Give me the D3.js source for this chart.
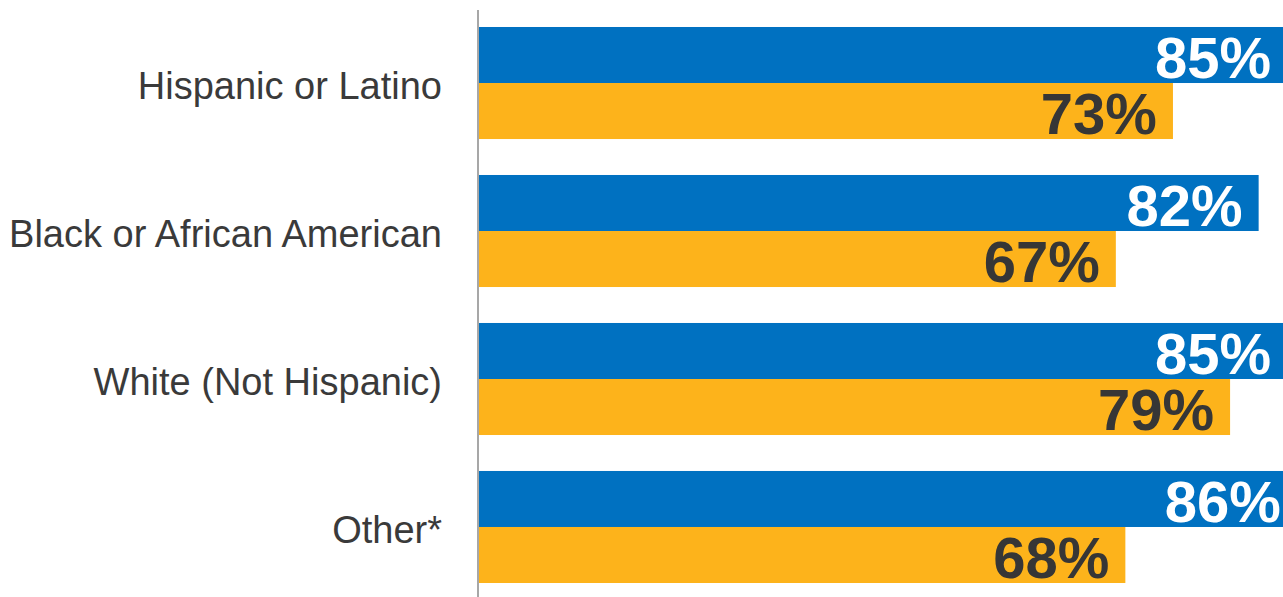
<!DOCTYPE html>
<html>
<head>
<meta charset="utf-8">
<script src="https://cdn.jsdelivr.net/npm/d3@7"></script>
<style>
  html, body { margin: 0; padding: 0; background: #fff; overflow: hidden; }
  svg { display: block; }
  .cat-label { font-family: "Liberation Sans", Arial, sans-serif; font-size: 38px; fill: #3a3a3a; }
  .bar-label { font-family: "Liberation Sans", Arial, sans-serif; font-size: 58px; font-weight: bold; }
</style>
</head>
<body>
<script>
var categories = ["Hispanic or Latino", "Black or African American", "White (Not Hispanic)", "Other*"];
var seriesA = [85, 82, 85, 86]; // blue
var seriesB = [73, 67, 79, 68]; // gold
var seriesKeys = ["a", "b"];

var w = 1283;
var h = 597;
var axisX = 478;

var data = categories.map(function(c, i){
  return {key: c, a: seriesA[i], b: seriesB[i]};
});

// 1% is about 9.52px; bars past ~84% run off the right edge as in the original
var x = d3.scaleLinear()
        .domain([0, 100])
        .range([axisX, axisX + 952]);

var y = d3.scaleBand()
        .domain(categories)
        .range([9, 601])
        .paddingInner(0.243)
        .paddingOuter(0.1216);

var ySub = d3.scaleBand()
        .domain(seriesKeys)
        .range([0, y.bandwidth()]);

var colors = {a: "#0071c1", b: "#fdb31b"};
var labelColors = {a: "#ffffff", b: "#363636"};

var svg = d3.select('body').append('svg')
            .attr('width', w)
            .attr('height', h);

var groups = svg.selectAll('.group')
  .data(data)
  .enter()
  .append('g')
  .classed('group', true)
  .attr('transform', function(d){ return 'translate(0,' + y(d.key) + ')'; });

groups.selectAll('.bar')
  .data(function(d){ return seriesKeys.map(function(k){ return {k: k, v: d[k]}; }); })
  .enter()
  .append('rect')
  .classed('bar', true)
  .attr('x', x(0) + 1)
  .attr('y', function(d){ return ySub(d.k); })
  .attr('width', function(d){ return x(d.v) - x(0) - 1; })
  .attr('height', ySub.bandwidth())
  .attr('fill', function(d){ return colors[d.k]; });

groups.selectAll('.bar-label')
  .data(function(d){ return seriesKeys.map(function(k){ return {k: k, v: d[k]}; }); })
  .enter()
  .append('text')
  .classed('bar-label', true)
  .attr('x', function(d){ return x(d.v) - 16; })
  .attr('y', function(d){ return ySub(d.k) + ySub.bandwidth() / 2; })
  .attr('dy', '0.39em')
  .attr('text-anchor', 'end')
  .attr('fill', function(d){ return labelColors[d.k]; })
  .text(function(d){ return d.v + '%'; });

groups.append('text')
  .classed('cat-label', true)
  .attr('x', 442)
  .attr('y', y.bandwidth() / 2)
  .attr('dy', '0.41em')
  .attr('text-anchor', 'end')
  .text(function(d){ return d.key; });

// vertical axis line
svg.append('line')
  .attr('x1', axisX).attr('x2', axisX)
  .attr('y1', 10).attr('y2', h)
  .attr('stroke', '#8a8a8a')
  .attr('stroke-width', 1.5);
</script>
</body>
</html>
